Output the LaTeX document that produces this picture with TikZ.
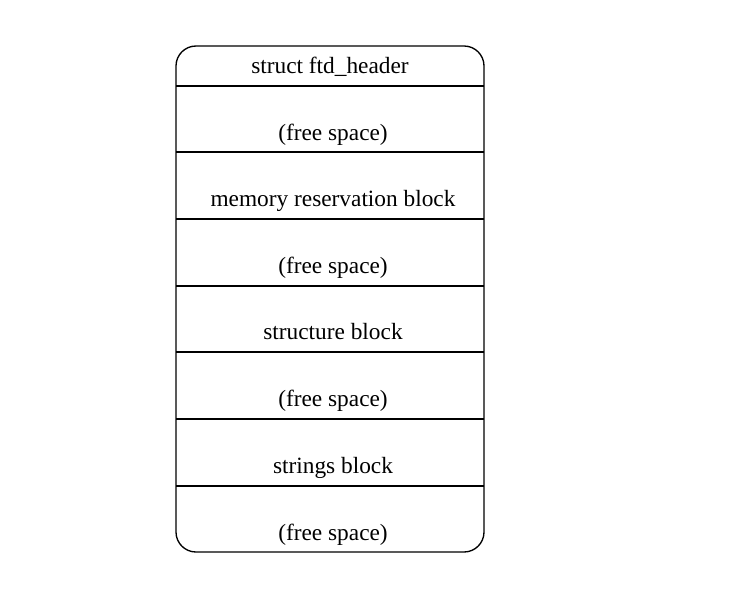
\documentclass[tikz,border=0pt]{standalone}
\usepackage{fontspec}
\setmainfont{Liberation Serif}
\begin{document}
\begin{tikzpicture}[x=0.75pt,y=-0.75pt,
  lbl/.style={font=\fontsize{17.5}{20}\selectfont, inner sep=0pt, anchor=base},
  frame/.style={draw, line width=1pt, rounded corners=15pt},
  sep/.style={draw, line width=1pt}]
\useasboundingbox (0,0) rectangle (734,590);
\draw[frame] (176,46) rectangle (484,552);
\foreach \y/\n in {86/a,152/b,219/c,286/d,352/e,419/f,486/g}{
  \coordinate (l\n) at (176,\y);
  \coordinate (r\n) at (484,\y);
  \draw[sep] (l\n) -- (r\n);
}
\node[lbl] (t1) at (330,73.5) {struct ftd\_header};
\node[lbl] (t2) at (333,140) {(free space)};
\node[lbl] (t3) at (333,206.5) {memory reservation block};
\node[lbl] (t4) at (333,273) {(free space)};
\node[lbl] (t5) at (333,339.5) {structure block};
\node[lbl] (t6) at (333,406) {(free space)};
\node[lbl] (t7) at (333,473) {strings block};
\node[lbl] (t8) at (333,540) {(free space)};
\end{tikzpicture}
\end{document}
